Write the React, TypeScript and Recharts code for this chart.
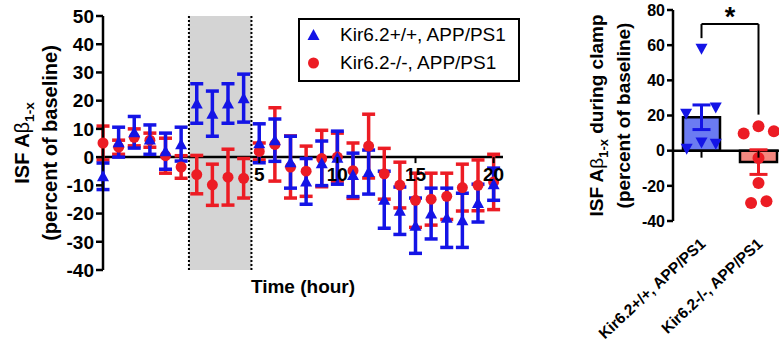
import React from "react";
import {
  ComposedChart,
  Scatter,
  Bar,
  Cell,
  XAxis,
  YAxis,
  ErrorBar,
  ReferenceArea,
  ReferenceLine,
  ReferenceDot,
  Label,
} from "recharts";

const BLUE = "#1414e6";
const RED = "#ec1c24";
const FONT = "'Liberation Sans', Arial, Helvetica, sans-serif";

// time course (hourly), mean +/- SEM, percent of baseline
const hours = [-5, -4, -3, -2, -1, 0, 1, 2, 3, 4, 5, 6, 7, 8, 9, 10, 11, 12, 13, 14, 15, 16, 17, 18, 19, 20];
const wtMean = [-6.8, 5.3, 8.8, 6.2, 2.1, 4.6, 19, 15.4, 19, 20.9, 4.9, 6, -1.8, -8.6, -2.2, -0.2, -6.3, -5.3, -15.1, -19, -24.3, -20, -21.5, -22.4, -16.3, -9.6];
const wtSem = [4.7, 5.3, 5.6, 5.2, 6.4, 6, 7, 8, 7, 8.5, 6.9, 7.5, 9.2, 8.1, 7.9, 9.4, 7.7, 7.8, 10.1, 8.4, 9.8, 9, 10.5, 9.6, 6.7, 5.7];
const koMean = [5, 3.5, 7, 6, 0.5, -3.5, -6.2, -9.8, -7.1, -7.5, 2, 4.5, -3.5, -5, -0.5, 0, -4.8, 3.9, -5.9, -9.9, -15.3, -14.9, -13.9, -10.8, -10, -8.8];
const koSem = [6, 2.5, 3, 2.5, 6.2, 4, 6.8, 7.3, 9.9, 7, 3, 13, 11, 8.9, 10, 8.5, 9.8, 11.3, 9, 8.1, 9.6, 9.2, 8.2, 8.3, 9, 9.8];
const clampWindow = [0.5, 4.5];
const timeTicks = [5, 10, 15, 20];
const leftTicks = [-40, -30, -20, -10, 0, 10, 20, 30, 40, 50];

// clamp summary
const groups = ["Kir6.2+/+, APP/PS1", "Kir6.2-/-, APP/PS1"];
const groupMean = [19, -6.5];
const groupSem = [7, 7];
const wtAnimals = [58, 21, 24.5, 4.7, 4, 1.1];
const wtSpread = [0, -0.27, 0.25, 0, 0.25, -0.26];
const koAnimals = [9.7, 13.9, 11, -4.2, -18.4, -29.8, -28.8];
const koSpread = [-0.26, 0, 0.27, 0, 0, -0.13, 0.14];
const rightTicks = [-40, -20, 0, 20, 40, 60, 80];
const bracketTop = 72;
const bracketLegs = [64, 20.5];

const wtRows = hours.map((t, i) => ({ t, v: wtMean[i], e: wtSem[i] }));
const koRows = hours.map((t, i) => ({ t, v: koMean[i], e: koSem[i] }));
const barRows = groups.map((group, i) => ({ group, mean: groupMean[i] }));
const wtMeanRow = [{ pos: 0.5, v: groupMean[0], e: groupSem[0] }];
const koMeanRow = [{ pos: 1.5, v: groupMean[1], e: groupSem[1] }];
const wtDots = wtAnimals.map((v, i) => ({ pos: 0.5 + wtSpread[i], v }));
const koDots = koAnimals.map((v, i) => ({ pos: 1.5 + koSpread[i], v }));

// plot heights, used to put the x ticks on the zero line
const LEFT_PLOT_H = 345 - 16 - 35 - 40;
const LEFT_ZERO = (LEFT_PLOT_H * (0 - -40)) / 90;
const RIGHT_PLOT_H = 345 - 10 - 24 - 100;
const RIGHT_ZERO = (RIGHT_PLOT_H * (0 - -40)) / 120;

const UpTri = (p: any) => (
  <polygon
    points={`${p.cx},${p.cy - 6} ${p.cx - 6},${p.cy + 5} ${p.cx + 6},${p.cy + 5}`}
    fill={BLUE}
  />
);
const DownTri = (p: any) => (
  <polygon
    points={`${p.cx - 6},${p.cy - 5} ${p.cx + 6},${p.cy - 5} ${p.cx},${p.cy + 6}`}
    fill={BLUE}
  />
);
const SmallDot = (p: any) => <circle cx={p.cx} cy={p.cy} r={5.5} fill={RED} />;
const BigDot = (p: any) => <circle cx={p.cx} cy={p.cy} r={6} fill={RED} />;
const NoShape = () => <g />;

function TimeTick(props: any) {
  const { x, y, payload } = props;
  const y0 = y - LEFT_ZERO;
  return (
    <g>
      <line x1={x} x2={x} y1={y0} y2={y0 + 6} stroke="#000" strokeWidth={2} />
      <text x={x} y={y0 + 24} textAnchor="middle" fontSize={19} fontWeight="bold" fill="#000" fontFamily={FONT}>
        {payload.value}
      </text>
    </g>
  );
}

function GroupTick(props: any) {
  const { x, y, payload } = props;
  const y0 = y - RIGHT_ZERO;
  const tx = x + 5;
  const ty = y + 24;
  return (
    <g>
      <line x1={x} x2={x} y1={y0} y2={y0 + 7} stroke="#000" strokeWidth={2} />
      <text
        x={tx}
        y={ty}
        textAnchor="end"
        transform={`rotate(-43, ${tx}, ${ty})`}
        fontSize={15.5}
        fontWeight="bold"
        fill="#000"
        fontFamily={FONT}
      >
        {payload.value}
      </text>
    </g>
  );
}

function YTitle(props: any) {
  const vb = props.viewBox || { x: 0, y: 0, width: 0, height: 0 };
  const cy = vb.y + vb.height / 2;
  const { first, second, size, tail } = props;
  return (
    <g fontFamily={FONT} fontWeight="bold" fontSize={size} fill="#000">
      <text transform={`translate(${vb.x + first},${cy}) rotate(-90)`} textAnchor="middle" dy="0.35em">
        ISF A<tspan fontWeight="normal">β</tspan>
        <tspan fontSize={size * 0.68} dy={5}>1-x</tspan>
        {tail ? <tspan dy={-5}>{tail}</tspan> : null}
      </text>
      <text transform={`translate(${vb.x + second},${cy}) rotate(-90)`} textAnchor="middle" dy="0.35em">
        (percent of baseline)
      </text>
    </g>
  );
}

function TimeTitle(props: any) {
  const vb = props.viewBox || { x: 0, y: 0, width: 0, height: 0 };
  return (
    <text x={vb.x + vb.width / 2} y={vb.y + 23} textAnchor="middle" fontSize={19} fontWeight="bold" fill="#000" fontFamily={FONT}>
      Time (hour)
    </text>
  );
}

const Star = (p: any) => (
  <text x={p.cx} y={p.cy + 16} textAnchor="middle" fontSize={27} fontWeight="bold" fill="#000" fontFamily={FONT}>
    *
  </text>
);

function LegendBox() {
  const row = (sym: React.ReactNode, text: string) => (
    <div style={{ height: 28, display: "flex", alignItems: "center" }}>
      <svg width={40} height={28} style={{ flex: "none" }}>
        {sym}
      </svg>
      <span style={{ fontSize: 19, lineHeight: "28px", whiteSpace: "nowrap" }}>{text}</span>
    </div>
  );
  return (
    <div
      style={{
        position: "absolute",
        left: 298,
        top: 18,
        width: 222,
        height: 64,
        border: "2.5px solid #000",
        boxSizing: "border-box",
        paddingTop: 1,
        fontFamily: FONT,
        color: "#000",
      }}
    >
      {row(<UpTri cx={13.5} cy={14} />, "Kir6.2+/+, APP/PS1")}
      {row(<SmallDot cx={13.5} cy={14} />, "Kir6.2-/-, APP/PS1")}
    </div>
  );
}

export default function App() {
  return (
    <div
      style={{
        position: "absolute",
        left: 0,
        top: 0,
        width: 779,
        height: 345,
        overflow: "hidden",
        background: "#fff",
        fontFamily: FONT,
      }}
    >
      <div style={{ position: "absolute", left: 0, top: 0 }}>
        <ComposedChart width={530} height={345} margin={{ top: 16, right: 27, bottom: 35, left: 0 }}>
          <ReferenceArea x1={clampWindow[0]} x2={clampWindow[1]} fill="#d4d4d4" fillOpacity={1} stroke="none" />
          <ReferenceLine x={clampWindow[0]} stroke="#000" strokeWidth={2} strokeDasharray="2 2" />
          <ReferenceLine x={clampWindow[1]} stroke="#000" strokeWidth={2} strokeDasharray="2 2" />
          <ReferenceLine y={0} stroke="#000" strokeWidth={2.5} />
          <XAxis
            type="number"
            dataKey="t"
            domain={[-5, 20.6]}
            ticks={timeTicks}
            axisLine={false}
            tickLine={false}
            tickSize={0}
            tickMargin={0}
            height={40}
            interval={0}
            tick={(p: any) => <TimeTick {...p} />}
          >
            <Label content={(p: any) => <TimeTitle {...p} />} />
          </XAxis>
          <YAxis
            type="number"
            domain={[-40, 50]}
            ticks={leftTicks}
            interval={0}
            width={103}
            axisLine={{ stroke: "#000", strokeWidth: 2.5 }}
            tickLine={{ stroke: "#000", strokeWidth: 2.5 }}
            tickSize={7}
            tickMargin={2}
            tick={{ fontSize: 19, fontWeight: "bold", fill: "#000", fontFamily: FONT }}
          >
            <Label content={(p: any) => <YTitle {...p} first={22} second={50} size={20} />} />
          </YAxis>
          <Scatter data={koRows} dataKey="v" shape={SmallDot} isAnimationActive={false}>
            <ErrorBar dataKey="e" direction="y" width={6.5} strokeWidth={3.5} stroke={RED} />
          </Scatter>
          <Scatter data={wtRows} dataKey="v" shape={UpTri} isAnimationActive={false}>
            <ErrorBar dataKey="e" direction="y" width={6.5} strokeWidth={3.5} stroke={BLUE} />
          </Scatter>
        </ComposedChart>
      </div>
      <LegendBox />
      <div style={{ position: "absolute", left: 545, top: 0 }}>
        <ComposedChart width={245} height={345} data={barRows} margin={{ top: 10, right: 3, bottom: 24, left: 0 }}>
          <XAxis
            dataKey="group"
            type="category"
            axisLine={false}
            tickLine={false}
            tickSize={0}
            tickMargin={0}
            height={100}
            interval={0}
            tick={(p: any) => <GroupTick {...p} />}
          />
          <XAxis xAxisId="num" type="number" dataKey="pos" domain={[0, 2]} hide />
          <YAxis
            type="number"
            domain={[-40, 80]}
            ticks={rightTicks}
            interval={0}
            width={128}
            axisLine={{ stroke: "#000", strokeWidth: 2.5 }}
            tickLine={{ stroke: "#000", strokeWidth: 2.5 }}
            tickSize={6}
            tickMargin={2}
            tick={{ fontSize: 16, fontWeight: "bold", fill: "#000", fontFamily: FONT }}
          >
            <Label
              content={(p: any) => <YTitle {...p} first={51} second={78} size={19} tail=" during clamp" />}
            />
          </YAxis>
          <Bar dataKey="mean" barSize={37} stroke="#000" strokeWidth={2.5} isAnimationActive={false}>
            <Cell fill="#6b7bf2" />
            <Cell fill="#f4877f" />
          </Bar>
          <ReferenceLine y={0} stroke="#000" strokeWidth={2.5} />
          <Scatter xAxisId="num" data={wtMeanRow} dataKey="v" shape={NoShape} isAnimationActive={false}>
            <ErrorBar dataKey="e" direction="y" width={9} strokeWidth={3} stroke={BLUE} />
          </Scatter>
          <Scatter xAxisId="num" data={koMeanRow} dataKey="v" shape={NoShape} isAnimationActive={false}>
            <ErrorBar dataKey="e" direction="y" width={9} strokeWidth={3} stroke={RED} />
          </Scatter>
          <Scatter xAxisId="num" data={wtDots} dataKey="v" shape={DownTri} isAnimationActive={false} />
          <Scatter xAxisId="num" data={koDots} dataKey="v" shape={BigDot} isAnimationActive={false} />
          <ReferenceLine
            xAxisId="num"
            segment={[{ x: 0.5, y: bracketLegs[0] }, { x: 0.5, y: bracketTop }]}
            stroke="#000"
            strokeWidth={2}
          />
          <ReferenceLine
            xAxisId="num"
            segment={[{ x: 0.5, y: bracketTop }, { x: 1.5, y: bracketTop }]}
            stroke="#000"
            strokeWidth={2}
          />
          <ReferenceLine
            xAxisId="num"
            segment={[{ x: 1.5, y: bracketTop }, { x: 1.5, y: bracketLegs[1] }]}
            stroke="#000"
            strokeWidth={2}
          />
          <ReferenceDot xAxisId="num" x={1} y={80} r={0} shape={Star} />
        </ComposedChart>
      </div>
    </div>
  );
}
